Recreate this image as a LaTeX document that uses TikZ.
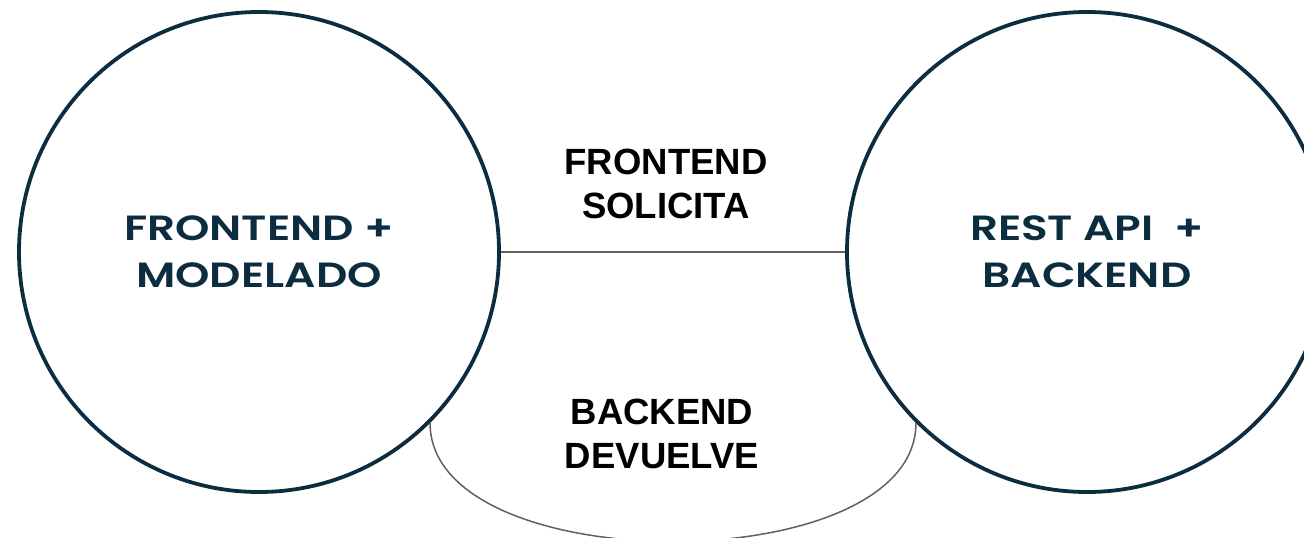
\documentclass[tikz,border=0pt]{standalone}
\usepackage{fontspec}
\setmainfont{Liberation Sans}
\newfontfamily\circfont{Poppins SemiBold}[FakeStretch=1.25]
\definecolor{navy}{HTML}{0C2D3F}
\definecolor{linegray}{HTML}{606060}
\tikzset{
  bigcircle/.style={circle, draw=navy, line width=3.8pt, minimum size=480pt, inner sep=0pt,
    text=navy, align=center, font=\circfont\fontsize{35}{47}\selectfont},
  midlabel/.style={align=center, text=black, font=\bfseries\fontsize{36.5}{44}\selectfont},
  conn/.style={draw=linegray, line width=1.5pt}
}
\begin{document}
\begin{tikzpicture}[x=1pt,y=-1pt]
\useasboundingbox (0,0) rectangle (1304,538);
\clip (0,0) rectangle (1304,538);
\node[bigcircle] (L) at (259,252) {FRONTEND +\\MODELADO};
\node[bigcircle] (R) at (1087,252) {REST API\ \ +\\BACKEND};
\draw[conn] (L.east) -- (R.west);
\draw[conn] (L.-45) .. controls +(0,158) and +(0,158) .. (R.-135);
\node[midlabel] (fs) at (666,184) {FRONTEND\\SOLICITA};
\node[midlabel] (bd) at (662,434) {BACKEND\\DEVUELVE};
\end{tikzpicture}
\end{document}
